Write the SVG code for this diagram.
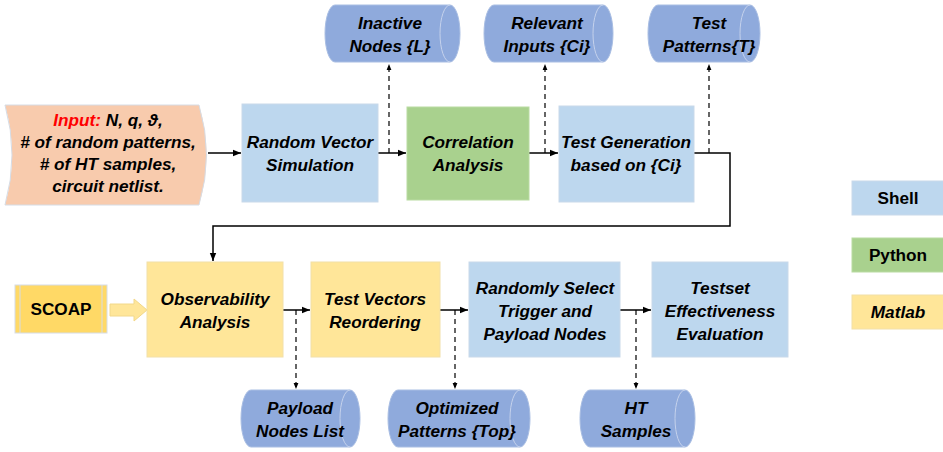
<svg xmlns="http://www.w3.org/2000/svg" width="943" height="452" viewBox="0 0 943 452">
<style>
text{font-family:"Liberation Sans",Arial,sans-serif;font-weight:bold;font-style:italic;font-size:17.2px;fill:#000;text-anchor:middle}
.blue{fill:#BDD7EE;stroke:#C9D9EA;stroke-width:1}
.green{fill:#A9D18E;stroke:#B9DBA2;stroke-width:1}
.yel{fill:#FFE699;stroke:#F2E0A8;stroke-width:1}
.cyl{fill:#8FAADC;stroke:#A9BEE3;stroke-width:1}
.cylin{fill:none;stroke:#C5D2EC;stroke-width:1}
.ln{fill:none;stroke:#000;stroke-width:1.5}
.dash{fill:none;stroke:#000;stroke-width:1.2;stroke-dasharray:5,4}
.up{font-style:normal}
</style>
<defs>
<marker id="ah" viewBox="0 0 10 10" refX="10" refY="5" markerWidth="8" markerHeight="8" markerUnits="userSpaceOnUse" orient="auto"><path d="M0,1 L10,5 L0,9 Z" fill="#000"/></marker>
<marker id="ahs" viewBox="0 0 10 10" refX="10" refY="5" markerWidth="6" markerHeight="6" markerUnits="userSpaceOnUse" orient="auto"><path d="M0,1 L10,5 L0,9 Z" fill="#000"/></marker>
</defs>

<g id="connectors">
<path class="ln" d="M208,153 L241,153" marker-end="url(#ah)"/>
<path class="ln" d="M378,153 L406,153" marker-end="url(#ah)"/>
<path class="ln" d="M529,153 L558,153" marker-end="url(#ah)"/>
<path class="dash" d="M389,153 L389,64" marker-end="url(#ahs)"/>
<path class="dash" d="M545,153 L545,64" marker-end="url(#ahs)"/>
<path class="dash" d="M709,153 L709,64" marker-end="url(#ahs)"/>
<path class="ln" d="M694,153 L730,153 L730,226 L213,226 L213,261" marker-end="url(#ah)"/>
<path d="M110,304 L134,304 L134,299 L147,310 L134,321 L134,316 L110,316 Z" fill="#FFE699" stroke="#F2D88A" stroke-width="1"/>
<path class="ln" d="M283,310 L310,310" marker-end="url(#ah)"/>
<path class="ln" d="M440,310 L468,310" marker-end="url(#ah)"/>
<path class="ln" d="M620,310 L651,310" marker-end="url(#ah)"/>
<path class="dash" d="M296,310 L296,389" marker-end="url(#ahs)"/>
<path class="dash" d="M455,310 L455,389" marker-end="url(#ahs)"/>
<path class="dash" d="M636,310 L636,389" marker-end="url(#ahs)"/>
</g>

<g id="input">
<path d="M5,105 L199,105 Q214,155 199,205 L5,205 Q19,155 5,105 Z" fill="#F8CBAD" stroke="#D6DCE5" stroke-width="1"/>
<text x="108" y="126"><tspan fill="#FF0000" style="fill:#FF0000">Input:</tspan> N, q, ϑ,</text>
<text x="108" y="148"># of random patterns,</text>
<text x="108" y="170"># of HT samples,</text>
<text x="108" y="192">circuit netlist.</text>
</g>

<g id="random-vector">
<rect class="blue" x="242" y="104" width="136" height="98"/>
<text x="310" y="148">Random Vector</text>
<text x="310" y="171">Simulation</text>
</g>

<g id="correlation">
<rect class="green" x="407" y="107" width="122" height="93"/>
<text x="468" y="148">Correlation</text>
<text x="468" y="171">Analysis</text>
</g>

<g id="test-generation">
<rect class="blue" x="559" y="106" width="135" height="96"/>
<text x="626" y="148">Test Generation</text>
<text x="626" y="171">based on {Ci}</text>
</g>

<g id="inactive-nodes">
<path class="cyl" d="M335,5 L450,5 A10,28.5 0 0 1 450,62 L335,62 A10,28.5 0 0 1 335,5 Z"/>
<path class="cylin" d="M450,5 A10,28.5 0 0 0 450,62"/>
<text x="390" y="29">Inactive</text>
<text x="390" y="52">Nodes {L}</text>
</g>

<g id="relevant-inputs">
<path class="cyl" d="M494,5 L603,5 A10,28.5 0 0 1 603,62 L494,62 A10,28.5 0 0 1 494,5 Z"/>
<path class="cylin" d="M603,5 A10,28.5 0 0 0 603,62"/>
<text x="547" y="29">Relevant</text>
<text x="547" y="52">Inputs {Ci}</text>
</g>

<g id="test-patterns">
<path class="cyl" d="M658,5 L750,5 A10,28.5 0 0 1 750,62 L658,62 A10,28.5 0 0 1 658,5 Z"/>
<path class="cylin" d="M750,5 A10,28.5 0 0 0 750,62"/>
<text x="709" y="29">Test</text>
<text x="709" y="52">Patterns{T}</text>
</g>

<g id="scoap">
<rect x="15" y="285" width="92" height="48" fill="#FFD966" stroke="#D6DCE5" stroke-width="1"/>
<line x1="20" y1="285" x2="20" y2="333" stroke="#D6DCE5" stroke-width="1"/>
<line x1="102" y1="285" x2="102" y2="333" stroke="#D6DCE5" stroke-width="1"/>
<text class="up" x="61" y="315">SCOAP</text>
</g>

<g id="observability">
<rect class="yel" x="147" y="262" width="136" height="95"/>
<text x="215" y="305">Observability</text>
<text x="215" y="328">Analysis</text>
</g>

<g id="reordering">
<rect class="yel" x="311" y="262" width="129" height="95"/>
<text x="375" y="305">Test Vectors</text>
<text x="375" y="328">Reordering</text>
</g>

<g id="random-select">
<rect class="blue" x="469" y="262" width="151" height="95"/>
<text x="545" y="294">Randomly Select</text>
<text x="545" y="317">Trigger and</text>
<text x="545" y="340">Payload Nodes</text>
</g>

<g id="testset-eval">
<rect class="blue" x="652" y="262" width="136" height="95"/>
<text x="720" y="294">Testset</text>
<text x="720" y="317">Effectiveness</text>
<text x="720" y="340">Evaluation</text>
</g>

<g id="payload-nodes">
<path class="cyl" d="M251,390 L350,390 A10,28.5 0 0 1 350,447 L251,447 A10,28.5 0 0 1 251,390 Z"/>
<path class="cylin" d="M350,390 A10,28.5 0 0 0 350,447"/>
<text x="300" y="414">Payload</text>
<text x="300" y="437">Nodes List</text>
</g>

<g id="optimized-patterns">
<path class="cyl" d="M398,390 L520,390 A10,28.5 0 0 1 520,447 L398,447 A10,28.5 0 0 1 398,390 Z"/>
<path class="cylin" d="M520,390 A10,28.5 0 0 0 520,447"/>
<text x="457" y="414">Optimized</text>
<text x="457" y="437">Patterns {Top}</text>
</g>

<g id="ht-samples">
<path class="cyl" d="M590,390 L685,390 A10,28.5 0 0 1 685,447 L590,447 A10,28.5 0 0 1 590,390 Z"/>
<path class="cylin" d="M685,390 A10,28.5 0 0 0 685,447"/>
<text x="636" y="414">HT</text>
<text x="636" y="437">Samples</text>
</g>

<g id="legend-shell">
<rect class="blue" x="852" y="181" width="92" height="34"/>
<text class="up" x="898" y="204">Shell</text>
</g>
<g id="legend-python">
<rect class="green" x="852" y="238" width="92" height="34"/>
<text class="up" x="898" y="261">Python</text>
</g>
<g id="legend-matlab">
<rect class="yel" x="852" y="295" width="92" height="34"/>
<text x="898" y="318">Matlab</text>
</g>
</svg>
